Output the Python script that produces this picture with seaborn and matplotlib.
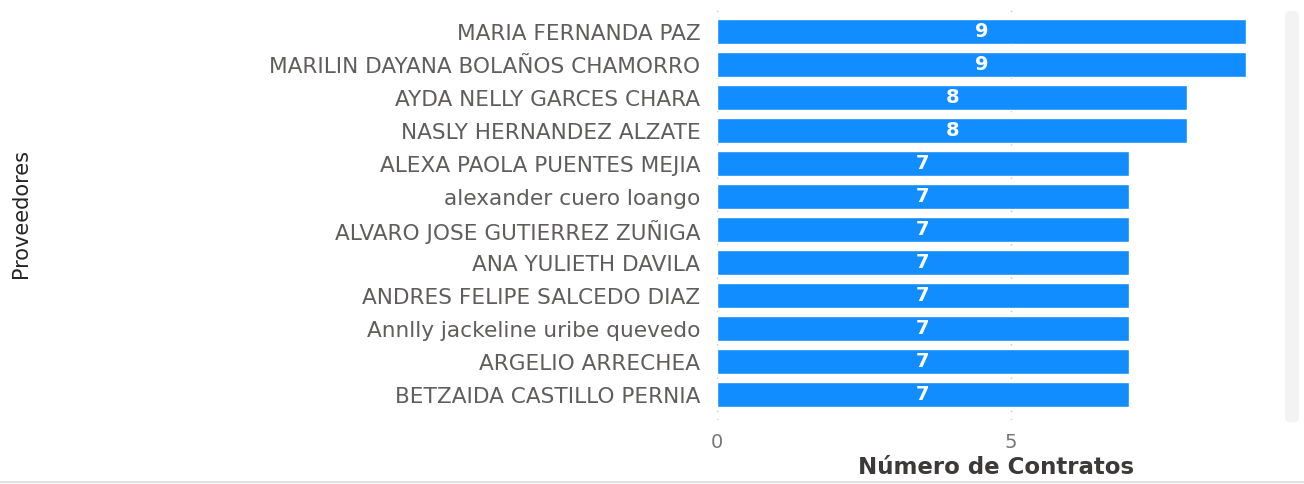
import matplotlib
matplotlib.use("Agg")
import matplotlib.pyplot as plt
import seaborn as sns
import pandas as pd
from matplotlib.patches import FancyBboxPatch
from matplotlib.lines import Line2D

proveedores = [
    "MARIA FERNANDA PAZ",
    "MARILIN DAYANA BOLAÑOS CHAMORRO",
    "AYDA NELLY GARCES CHARA",
    "NASLY HERNANDEZ ALZATE",
    "ALEXA PAOLA PUENTES MEJIA",
    "alexander cuero loango",
    "ALVARO JOSE GUTIERREZ ZUÑIGA",
    "ANA YULIETH DAVILA",
    "ANDRES FELIPE SALCEDO DIAZ",
    "Annlly jackeline uribe quevedo",
    "ARGELIO ARRECHEA",
    "BETZAIDA CASTILLO PERNIA",
]
contratos = [9, 9, 8, 8, 7, 7, 7, 7, 7, 7, 7, 7]
x_ticks = [0, 5]
x_label = "Número de Contratos"
y_label = "Proveedores"

df = pd.DataFrame({"Proveedores": proveedores, "Contratos": contratos})

sns.set_theme(style="white")
plt.rcParams["font.family"] = ["DejaVu Sans"]

W, H = 1304, 484
fig = plt.figure(figsize=(W / 100, H / 100), dpi=100)
fig.patch.set_facecolor("white")

left_px, right_px, top_px, bottom_px = 717, 1252, 8, 420
ax = fig.add_axes([left_px / W, 1 - bottom_px / H,
                   (right_px - left_px) / W, (bottom_px - top_px) / H])

sns.barplot(data=df, y="Proveedores", x="Contratos", orient="h",
            color="#118DFF", saturation=1, width=0.755, ax=ax, zorder=3)

ax.set_xlim(0, 9.1)
ax.set_ylim(11.76, -0.72)
ax.set_xticks(x_ticks)
ax.set_xticklabels([str(t) for t in x_ticks])

for c in ax.containers:
    ax.bar_label(c, label_type="center", color="white", fontsize=14,
                 fontweight="bold")

for t in x_ticks:
    ax.axvline(t, color="#C8C6C4", linestyle=(0, (1, 5)), linewidth=1, zorder=1)

for s in ax.spines.values():
    s.set_visible(False)

ax.tick_params(axis="y", length=0, pad=12, labelsize=15.6, labelcolor="#605E5C")
ax.tick_params(axis="x", length=0, pad=9, labelsize=14, labelcolor="#777777")

ax.set_ylabel("")
ax.set_xlabel("")
fig.text(996 / W, 1 - 467 / H, x_label, ha="center", va="center",
         fontsize=16.5, fontweight="bold", color="#3B3A39")
fig.text(21 / W, 1 - 214 / H, y_label, ha="center", va="center",
         rotation=90, fontsize=15, color="#252423")

# scrollbar
sb = FancyBboxPatch((1285 / W, 1 - 423 / H), 14 / W, (423 - 10) / H,
                    boxstyle="round,pad=0,rounding_size=0.01",
                    transform=fig.transFigure, facecolor="#F3F3F3",
                    edgecolor="none")
fig.patches.append(sb)
fig.lines.append(Line2D([0, 1], [1 - 482 / H, 1 - 482 / H],
                        transform=fig.transFigure, color="#E1E1E1", linewidth=1.5))

fig.savefig("out.png", dpi=100)
